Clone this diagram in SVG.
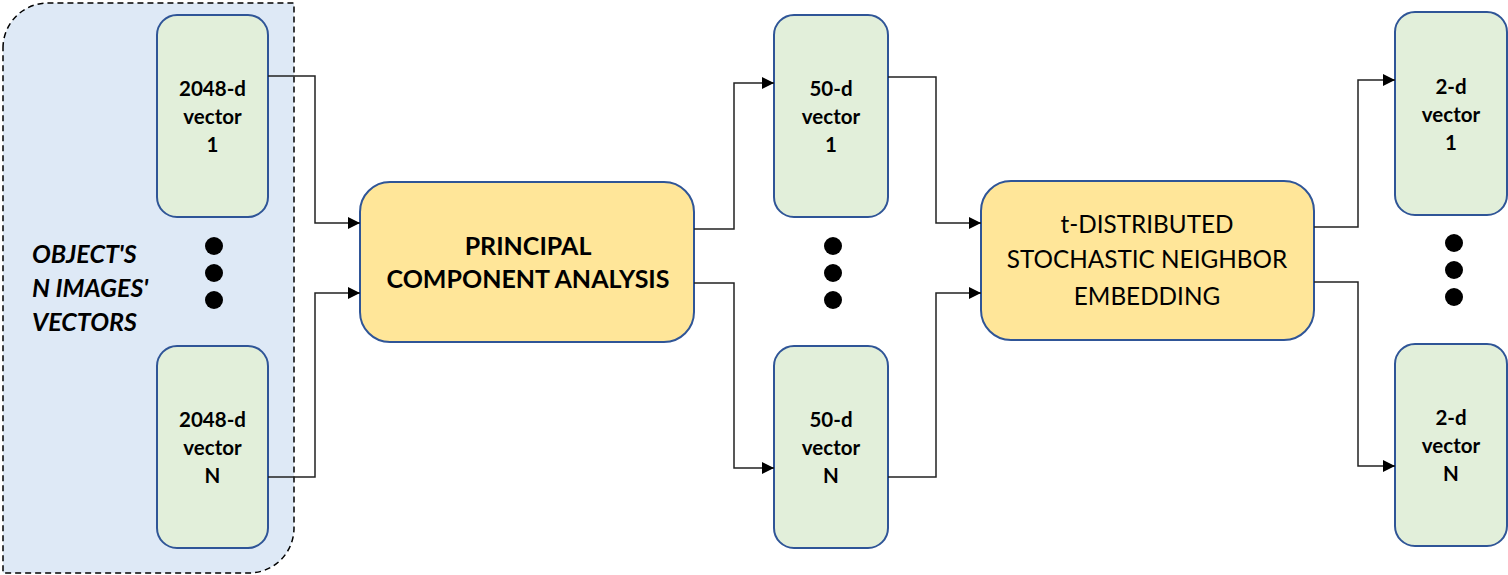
<svg xmlns="http://www.w3.org/2000/svg" width="1508" height="575" viewBox="0 0 1508 575">
<style>
.vec{fill:#e2efda;stroke:#2f5597;stroke-width:2}
.proc{fill:#ffe699;stroke:#2f5597;stroke-width:2}
.vt{font-family:Lato,"Open Sans",sans-serif;font-weight:bold;font-size:20.5px;text-anchor:middle;fill:#000}
.pt{font-family:Lato,"Open Sans",sans-serif;font-weight:bold;font-size:25px;text-anchor:middle;fill:#000}
.tt{font-family:Lato,"Open Sans",sans-serif;font-size:24.3px;text-anchor:middle;fill:#000}
.lt{font-family:Lato,"Open Sans",sans-serif;font-weight:bold;font-style:italic;font-size:25px;fill:#000}
.con{fill:none;stroke:#222;stroke-width:1.5}
.dot{fill:#000}
</style>
<defs>
<marker id="arr" viewBox="0 0 12 12" refX="12" refY="6" markerWidth="12" markerHeight="12" markerUnits="userSpaceOnUse" orient="auto">
<path d="M0,0 L12,6 L0,12 Z" fill="#000"/>
</marker>
</defs>
<g id="container">
<path d="M3,48 A45,45 0 0 1 48,3 L294,3 L294,528 A45,45 0 0 1 249,573 L3,573 Z" fill="#dee9f6" stroke="#000" stroke-width="1.5" stroke-dasharray="6,4"/>
<text class="lt" x="32" y="263">OBJECT'S</text>
<text class="lt" x="32" y="297">N IMAGES'</text>
<text class="lt" x="32" y="331">VECTORS</text>
</g>
<g id="in1"><rect class="vec" x="157" y="15" width="111" height="202" rx="20"/>
<text class="vt" x="212.5" y="96">2048-d</text><text class="vt" x="212.5" y="124">vector</text><text class="vt" x="212.5" y="152">1</text></g>
<g id="inN"><rect class="vec" x="157" y="346" width="111" height="202" rx="20"/>
<text class="vt" x="212.5" y="427">2048-d</text><text class="vt" x="212.5" y="455">vector</text><text class="vt" x="212.5" y="483">N</text></g>
<g id="dots1"><circle class="dot" cx="214" cy="246" r="9"/><circle class="dot" cx="214" cy="273" r="9"/><circle class="dot" cx="214" cy="300" r="9"/></g>
<g id="pca"><rect class="proc" x="360" y="182" width="334" height="160" rx="30"/>
<text class="pt" x="528" y="255">PRINCIPAL</text><text class="pt" x="528" y="288">COMPONENT ANALYSIS</text></g>
<g id="mid1"><rect class="vec" x="774" y="15" width="114" height="202" rx="20"/>
<text class="vt" x="831" y="96">50-d</text><text class="vt" x="831" y="124">vector</text><text class="vt" x="831" y="152">1</text></g>
<g id="midN"><rect class="vec" x="774" y="346" width="114" height="202" rx="20"/>
<text class="vt" x="831" y="427">50-d</text><text class="vt" x="831" y="455">vector</text><text class="vt" x="831" y="483">N</text></g>
<g id="dots2"><circle class="dot" cx="833" cy="246" r="9"/><circle class="dot" cx="833" cy="273" r="9"/><circle class="dot" cx="833" cy="300" r="9"/></g>
<g id="tsne"><rect class="proc" x="981" y="181" width="333" height="159" rx="30"/>
<text class="tt" x="1147" y="233">t-DISTRIBUTED</text><text class="tt" x="1147" y="268">STOCHASTIC NEIGHBOR</text><text class="tt" x="1147" y="305">EMBEDDING</text></g>
<g id="out1"><rect class="vec" x="1395" y="12" width="112" height="203" rx="20"/>
<text class="vt" x="1451" y="94">2-d</text><text class="vt" x="1451" y="122">vector</text><text class="vt" x="1451" y="150">1</text></g>
<g id="outN"><rect class="vec" x="1395" y="344" width="112" height="202" rx="20"/>
<text class="vt" x="1451" y="425">2-d</text><text class="vt" x="1451" y="453">vector</text><text class="vt" x="1451" y="481">N</text></g>
<g id="dots3"><circle class="dot" cx="1454" cy="243" r="9"/><circle class="dot" cx="1454" cy="270" r="9"/><circle class="dot" cx="1454" cy="297" r="9"/></g>
<g id="connectors">
<path class="con" d="M268,76 H315 V223 H360" marker-end="url(#arr)"/>
<path class="con" d="M268,477 H315 V293 H360" marker-end="url(#arr)"/>
<path class="con" d="M694,229 H734 V83 H774" marker-end="url(#arr)"/>
<path class="con" d="M694,283 H734 V468 H774" marker-end="url(#arr)"/>
<path class="con" d="M888,77 H936 V223 H981" marker-end="url(#arr)"/>
<path class="con" d="M888,477 H936 V293 H981" marker-end="url(#arr)"/>
<path class="con" d="M1314,227 H1358 V80 H1395" marker-end="url(#arr)"/>
<path class="con" d="M1314,282 H1358 V466 H1395" marker-end="url(#arr)"/>
</g>
</svg>
